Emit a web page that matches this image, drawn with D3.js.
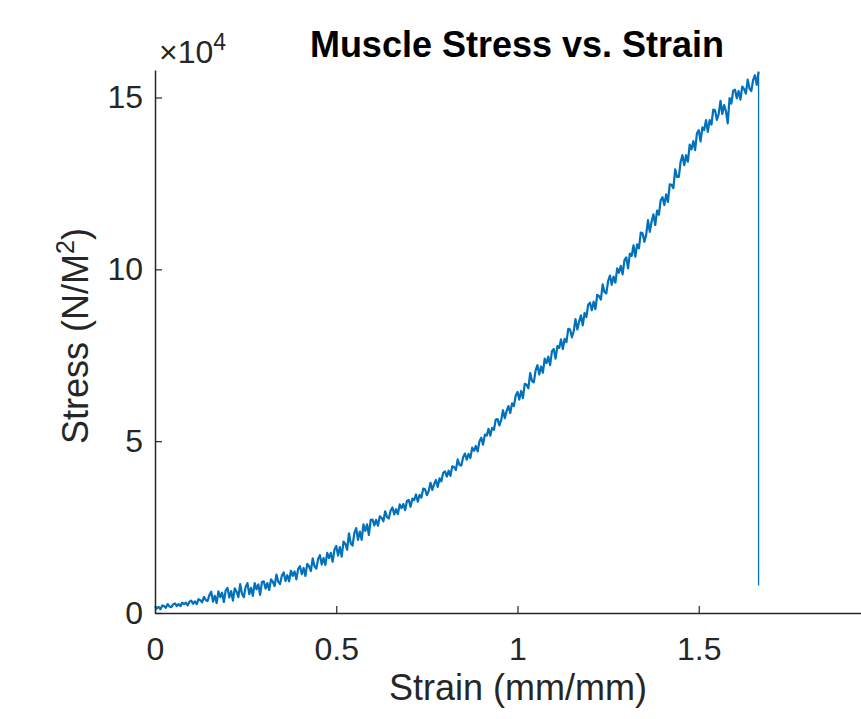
<!DOCTYPE html>
<html>
<head>
<meta charset="utf-8">
<script src="https://cdn.jsdelivr.net/npm/d3@7"></script>
<style>
  body { margin: 0; background: #fff; }
  text { font-family: "Liberation Sans", Arial, sans-serif; fill: #262626; }
</style>
</head>
<body>
<div id="chart"></div>
<script>
const strainStep = 0.005;
const stressValues = [
  // 0.00 - 0.095
  0.20, 0.13, 0.18, 0.11, 0.22, 0.20, 0.15, 0.26, 0.19, 0.17, 0.25, 0.28, 0.20, 0.26, 0.20, 0.30, 0.26, 0.30, 0.22, 0.33,
  // 0.10
  0.36, 0.27, 0.34, 0.26, 0.40, 0.37, 0.31, 0.47, 0.38, 0.35, 0.52, 0.62, 0.33, 0.50, 0.29, 0.63, 0.46, 0.59, 0.32, 0.66,
  // 0.20
  0.73, 0.45, 0.64, 0.36, 0.72, 0.62, 0.46, 0.84, 0.56, 0.46, 0.76, 0.87, 0.55, 0.73, 0.50, 0.87, 0.69, 0.83, 0.53, 0.90,
  // 0.30
  0.92, 0.71, 0.87, 0.67, 0.98, 0.91, 0.78, 1.12, 0.91, 0.84, 1.09, 1.18, 0.93, 1.10, 0.92, 1.23, 1.08, 1.21, 0.98, 1.29,
  // 0.40
  1.36, 1.13, 1.31, 1.08, 1.43, 1.36, 1.22, 1.59, 1.36, 1.29, 1.57, 1.68, 1.41, 1.60, 1.40, 1.75, 1.60, 1.75, 1.49, 1.84,
  // 0.50
  1.95, 1.67, 1.92, 1.64, 2.08, 2.01, 1.84, 2.32, 2.03, 1.96, 2.33, 2.47, 2.13, 2.37, 2.13, 2.58, 2.39, 2.58, 2.27, 2.71,
  // 0.60
  2.72, 2.55, 2.71, 2.54, 2.81, 2.77, 2.67, 2.96, 2.79, 2.75, 2.98, 3.07, 2.87, 3.02, 2.88, 3.16, 3.05, 3.17, 2.99, 3.26,
  // 0.70
  3.29, 3.09, 3.33, 3.28, 3.45, 3.24, 3.44, 3.36, 3.62, 3.60, 3.43, 3.55, 3.79, 3.58, 3.75, 3.87, 3.67, 3.92, 3.83, 4.08,
  // 0.80
  4.12, 3.97, 4.14, 3.99, 4.27, 4.25, 4.16, 4.47, 4.31, 4.29, 4.53, 4.64, 4.46, 4.63, 4.51, 4.81, 4.72, 4.86, 4.70, 4.99,
  // 0.90
  5.10, 4.90, 5.19, 5.16, 5.36, 5.16, 5.39, 5.33, 5.63, 5.64, 5.46, 5.61, 5.90, 5.67, 5.88, 6.02, 5.82, 6.10, 6.02, 6.32,
  // 1.00
  6.43, 6.21, 6.46, 6.25, 6.67, 6.64, 6.54, 6.98, 6.75, 6.71, 7.06, 7.21, 6.94, 7.17, 6.99, 7.40, 7.27, 7.46, 7.21, 7.62,
  // 1.10
  7.68, 7.40, 7.77, 7.71, 7.96, 7.68, 7.98, 7.88, 8.27, 8.25, 8.02, 8.20, 8.55, 8.25, 8.48, 8.66, 8.37, 8.73, 8.61, 8.97,
  // 1.20
  9.03, 8.81, 9.06, 8.84, 9.26, 9.22, 9.12, 9.56, 9.34, 9.30, 9.66, 9.82, 9.55, 9.79, 9.61, 10.03, 9.90, 10.10, 9.85, 10.27,
  // 1.30
  10.35, 10.03, 10.46, 10.39, 10.70, 10.37, 10.73, 10.61, 11.07, 11.05, 10.80, 11.01, 11.43, 11.09, 11.39, 11.60, 11.29, 11.71, 11.59, 12.01,
  // 1.40
  12.10, 11.87, 12.18, 11.96, 12.47, 12.46, 12.36, 12.91, 12.69, 12.69, 13.13, 13.32, 13.03, 13.32, 13.13, 13.63, 13.49, 13.73, 13.47, 13.96,
  // 1.50
  14.05, 13.72, 14.13, 14.05, 14.34, 14.00, 14.34, 14.21, 14.65, 14.62, 14.35, 14.52, 14.90, 14.52, 14.78, 14.60, 14.25, 14.98, 14.82, 15.20,
  // 1.60 - 1.66
  15.23, 14.98, 15.19, 14.94, 15.32, 15.25, 15.11, 15.52, 15.26, 15.19, 15.51, 15.65, 15.37
];
// failure: peak then sudden drop
const failureStrain = [1.665, 1.665];
const failureStress = [15.75, 0.8];

const xTicks = [0, 0.5, 1, 1.5];
const yTicks = [0, 5, 10, 15];

const width = 861;
const height = 719;
const blue = "#0072BD";
const axisColor = "#262626";

const points = stressValues.map((v, i) => ({ x: i * strainStep, y: v }));
points.push({ x: failureStrain[0], y: failureStress[0] });
const drop = failureStrain.map((s, i) => ({ x: s, y: failureStress[i] }));

const svg = d3
  .select("#chart")
  .append("svg")
  .attr("width", width)
  .attr("height", height);

const xScale = d3.scaleLinear().domain([0, 2]).range([155, 880]);
const yScale = d3.scaleLinear().domain([0, 15.8]).range([613, 70]);

// curve
const line = d3
  .line()
  .x((d) => xScale(d.x))
  .y((d) => yScale(d.y));

svg
  .append("path")
  .datum(points)
  .attr("fill", "none")
  .attr("stroke", blue)
  .attr("stroke-width", 2.2)
  .attr("stroke-linejoin", "round")
  .attr("d", line);

svg
  .append("path")
  .datum(drop)
  .attr("fill", "none")
  .attr("stroke", blue)
  .attr("stroke-width", 1.3)
  .attr("d", line);

// x axis
const gx = svg
  .append("g")
  .attr("transform", `translate(0,${yScale(0)})`)
  .call(
    d3
      .axisBottom(xScale)
      .tickValues(xTicks)
      .tickFormat((d) => d3.format("~g")(d))
      .tickSize(-7)
      .tickSizeOuter(0)
      .tickPadding(24)
  );
gx.select(".domain").attr("stroke", axisColor).attr("stroke-width", 1.5);
gx.selectAll(".tick line").attr("stroke", axisColor).attr("stroke-width", 1.2);
gx.selectAll(".tick text")
  .attr("fill", axisColor)
  .style("font-size", "32px")
  .style("font-family", '"Liberation Sans", Arial, sans-serif');

// y axis
const gy = svg
  .append("g")
  .attr("transform", `translate(${xScale(0)},0)`)
  .call(
    d3
      .axisLeft(yScale)
      .tickValues(yTicks)
      .tickSize(-7)
      .tickSizeOuter(0)
      .tickPadding(12)
  );
gy.select(".domain").attr("stroke", axisColor).attr("stroke-width", 1.5);
gy.selectAll(".tick line").attr("stroke", axisColor).attr("stroke-width", 1.2);
gy.selectAll(".tick text")
  .attr("fill", axisColor)
  .style("font-size", "32px")
  .style("font-family", '"Liberation Sans", Arial, sans-serif');

// exponent label
const expo = svg
  .append("text")
  .attr("x", 159)
  .attr("y", 63)
  .style("font-size", "32px");
expo.append("tspan").text("\u00d710");
expo.append("tspan").attr("dy", -13).style("font-size", "23px").text("4");

// title
svg
  .append("text")
  .attr("x", 517)
  .attr("y", 57)
  .attr("text-anchor", "middle")
  .style("font-size", "36px")
  .style("font-weight", "bold")
  .style("fill", "#000")
  .text("Muscle Stress vs. Strain");

// x label
svg
  .append("text")
  .attr("x", 518)
  .attr("y", 700)
  .attr("text-anchor", "middle")
  .style("font-size", "36px")
  .text("Strain (mm/mm)");

// y label
const ylab = svg
  .append("text")
  .attr("transform", "translate(88,336) rotate(-90)")
  .attr("text-anchor", "middle")
  .style("font-size", "36px");
ylab.append("tspan").text("Stress (N/M");
ylab.append("tspan").attr("dy", -14).style("font-size", "25px").text("2");
ylab.append("tspan").attr("dy", 14).text(")");
</script>
</body>
</html>
